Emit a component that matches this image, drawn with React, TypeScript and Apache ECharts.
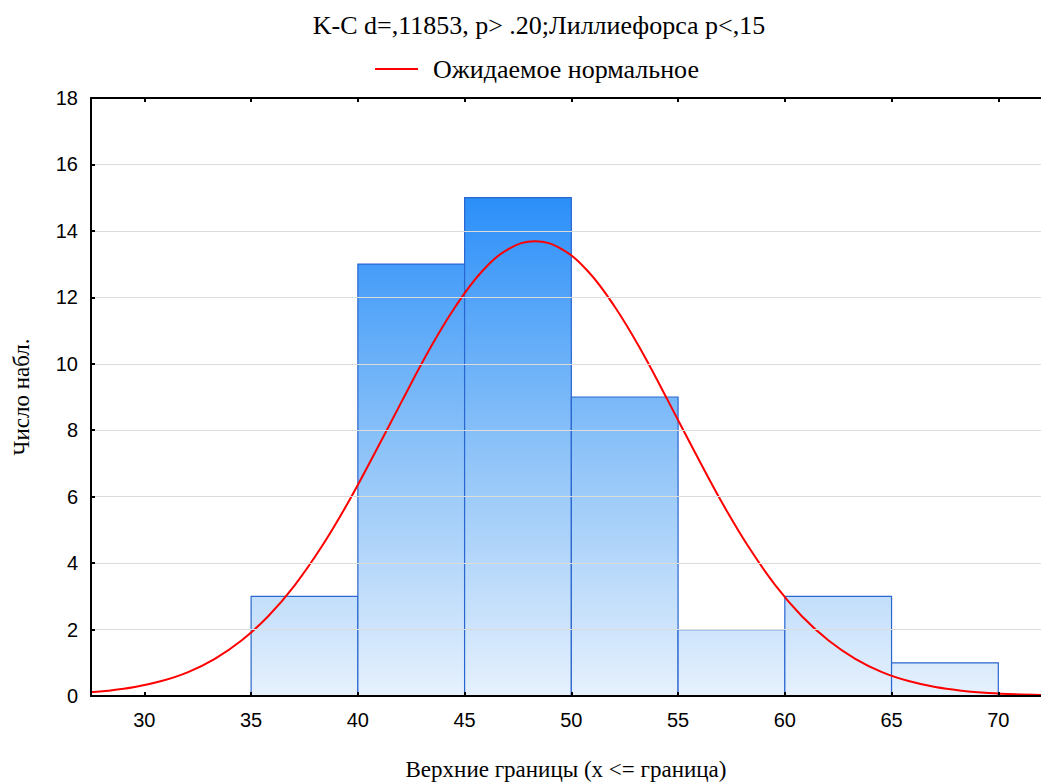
import React, { useEffect, useRef } from "react";
import * as echarts from "echarts";

const binStarts = [35, 40, 45, 50, 55, 60, 65];
const binEnds = [40, 45, 50, 55, 60, 65, 70];
const counts = [3, 13, 15, 9, 2, 3, 1];

const curveX = [27.05, 28.3, 29.55, 30.8, 32.05, 33.3, 34.55, 35.8, 37.05, 38.3, 39.55, 40.8, 42.05, 43.3, 44.55, 45.8, 47.05, 48.3, 49.55, 50.8, 52.05, 53.3, 54.55, 55.8, 57.05, 58.3, 59.55, 60.8, 62.05, 63.3, 64.55, 65.8, 67.05, 68.3, 69.55, 70.8, 72.05];
const curveY = [0.09, 0.16, 0.27, 0.45, 0.72, 1.12, 1.67, 2.4, 3.34, 4.49, 5.83, 7.32, 8.86, 10.37, 11.7, 12.77, 13.45, 13.69, 13.45, 12.77, 11.7, 10.37, 8.86, 7.32, 5.83, 4.49, 3.34, 2.4, 1.67, 1.12, 0.72, 0.45, 0.27, 0.16, 0.09, 0.05, 0.03];

const xTicks = [30, 35, 40, 45, 50, 55, 60, 65, 70];

const titleText = "K-C d=,11853, p> .20;Лиллиефорса p<,15";
const legendName = "Ожидаемое нормальное";
const xName = "Верхние границы (x <= граница)";
const yName = "Число набл.";

export default function App() {
  const ref = useRef<HTMLDivElement>(null);
  useEffect(() => {
    if (!ref.current) return;
    const chart = echarts.init(ref.current, undefined, { renderer: "svg" });
    const serif = "Liberation Serif";
    const sans = "Liberation Sans";
    const barData = binStarts.map((s, i) => [s, binEnds[i], counts[i]]);
    const lineData = curveX.map((x, i) => [x, curveY[i]]);
    chart.setOption({
      animation: false,
      backgroundColor: "#ffffff",
      title: {
        text: titleText,
        left: 534,
        textAlign: "center",
        top: 7,
        textStyle: { fontFamily: serif, fontSize: 26, fontWeight: "normal", color: "#000" },
      },
      legend: {
        data: [{ name: legendName, icon: "rect" }],
        left: 370,
        top: 51,
        itemWidth: 43,
        itemHeight: 2,
        itemGap: 10,
        textStyle: { fontFamily: serif, fontSize: 26, color: "#000", padding: [0, 0, 0, 10] },
      },
      grid: { left: 91, right: 0, top: 98, bottom: 86, outerBoundsMode: "none", containLabel: false },
      xAxis: [
        {
          type: "value",
          min: 27.5,
          max: 72,
          position: "bottom",
          z: 10,
          name: xName,
          nameLocation: "middle",
          nameGap: 62,
          nameTextStyle: { fontFamily: serif, fontSize: 23, color: "#000" },
          axisLine: { show: true, onZero: false, lineStyle: { color: "#000", width: 2 } },
          axisTick: { show: true, inside: true, length: 4, customValues: xTicks, lineStyle: { color: "#000", width: 2 } },
          axisLabel: { customValues: xTicks, margin: 14, fontFamily: sans, fontSize: 20, color: "#000" },
          splitLine: { show: false },
        },
        {
          type: "value",
          min: 27.5,
          max: 72,
          position: "top",
          z: 10,
          axisLine: { show: true, onZero: false, lineStyle: { color: "#000", width: 2 } },
          axisTick: { show: true, inside: true, length: 4, customValues: xTicks, lineStyle: { color: "#000", width: 2 } },
          axisLabel: { show: false },
          splitLine: { show: false },
        },
      ],
      yAxis: {
        type: "value",
        min: 0,
        max: 18,
        interval: 2,
        z: 10,
        name: yName,
        nameLocation: "middle",
        nameGap: 58,
        nameTextStyle: { fontFamily: serif, fontSize: 23, color: "#000" },
        axisLine: { show: true, onZero: false, lineStyle: { color: "#000", width: 2 } },
        axisTick: { show: true, inside: true, length: 4, lineStyle: { color: "#000", width: 2 } },
        axisLabel: { margin: 13, fontFamily: sans, fontSize: 20, color: "#000" },
        splitLine: { show: true, lineStyle: { color: "#dcdcdc", width: 1 } },
      },
      series: [
        {
          type: "custom",
          name: "bars",
          xAxisIndex: 0,
          yAxisIndex: 0,
          z: 2,
          data: barData,
          encode: { x: [0, 1], y: 2 },
          renderItem: (params: any, api: any) => {
            const x0 = api.value(0);
            const x1 = api.value(1);
            const v = api.value(2);
            const p0 = api.coord([x0, v]);
            const p1 = api.coord([x1, 0]);
            const gTop = api.coord([x0, 15])[1];
            const gBot = api.coord([x0, 0])[1];
            return {
              type: "rect",
              shape: { x: p0[0], y: p0[1], width: p1[0] - p0[0], height: p1[1] - p0[1] },
              style: {
                fill: {
                  type: "linear",
                  x: 0,
                  y: gTop,
                  x2: 0,
                  y2: gBot,
                  global: true,
                  colorStops: [
                    { offset: 0, color: "#2b8ff9" },
                    { offset: 0.5, color: "#8cc2f8" },
                    { offset: 1, color: "#e6f1fd" },
                  ],
                },
                stroke: "#2a66d0",
                lineWidth: 1.2,
              },
            };
          },
        },
        {
          type: "line",
          name: legendName,
          xAxisIndex: 0,
          yAxisIndex: 0,
          z: 5,
          smooth: 0.4,
          clip: true,
          symbol: "none",
          data: lineData,
          lineStyle: { color: "#ff0000", width: 2 },
          itemStyle: { color: "#ff0000" },
        },
      ],
    });
    return () => chart.dispose();
  }, []);
  return <div ref={ref} style={{ position: "fixed", left: 0, top: 0, width: 1041, height: 782 }} />;
}
